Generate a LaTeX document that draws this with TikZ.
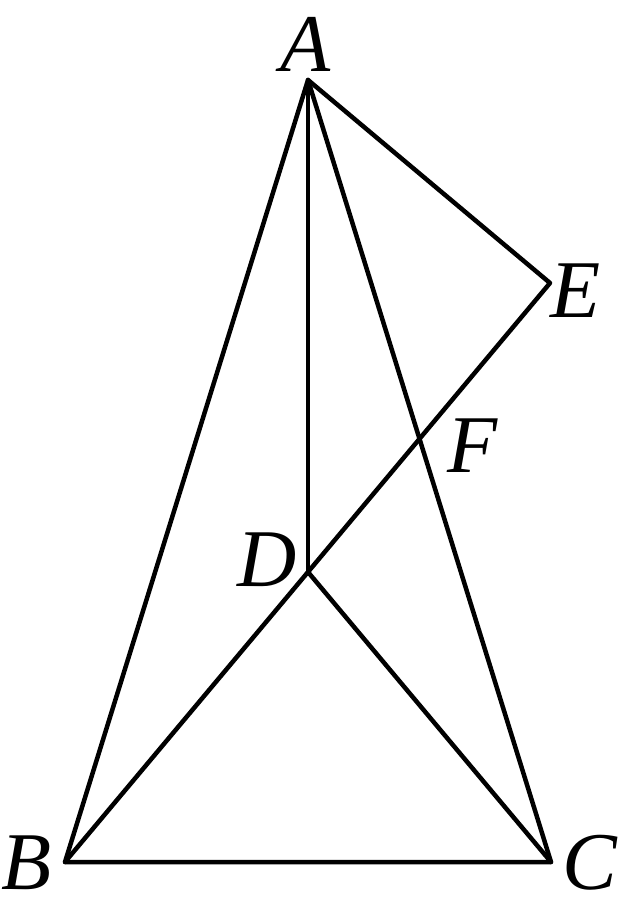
\documentclass[tikz,border=0pt]{standalone}
\usepackage{fontspec}
\setmainfont{Liberation Serif}
\usetikzlibrary{calc, intersections, positioning}
\tikzset{
    edge/.style={line width=4.5pt, line cap=round, line join=round},
    ptlabel/.style={inner sep=0pt, font=\fontsize{82}{90}\selectfont\itshape}
}
\begin{document}
\begin{tikzpicture}[x=1pt, y=-1pt]
    \useasboundingbox (0,0) rectangle (618,917);
    \coordinate (A) at (308, 80);
    \coordinate (B) at (65, 862);
    \coordinate (C) at (551, 862);
    \coordinate (D) at (308, 572);
    \coordinate (E) at (550, 283);
    \path[name path=AC] (A) -- (C);
    \path[name path=DE] (D) -- (E);
    \path[name intersections={of=AC and DE, by=F}];
    \draw[edge] (A) -- (B) -- (C) -- cycle;
    \draw[edge] (A) -- (D);
    \draw[edge] (B) -- (D) -- (C);
    \draw[edge] (D) -- (E) -- (A);
    \node[ptlabel] (lA) at (306, 44) {A};
    \node[ptlabel] (lB) at (27, 863) {B};
    \node[ptlabel] (lC) at (590, 863) {C};
    \node[ptlabel] (lD) at (267, 560) {D};
    \node[ptlabel] (lE) at (576, 291) {E};
    \node[ptlabel] (lF) at (473, 446) {F};
\end{tikzpicture}
\end{document}
